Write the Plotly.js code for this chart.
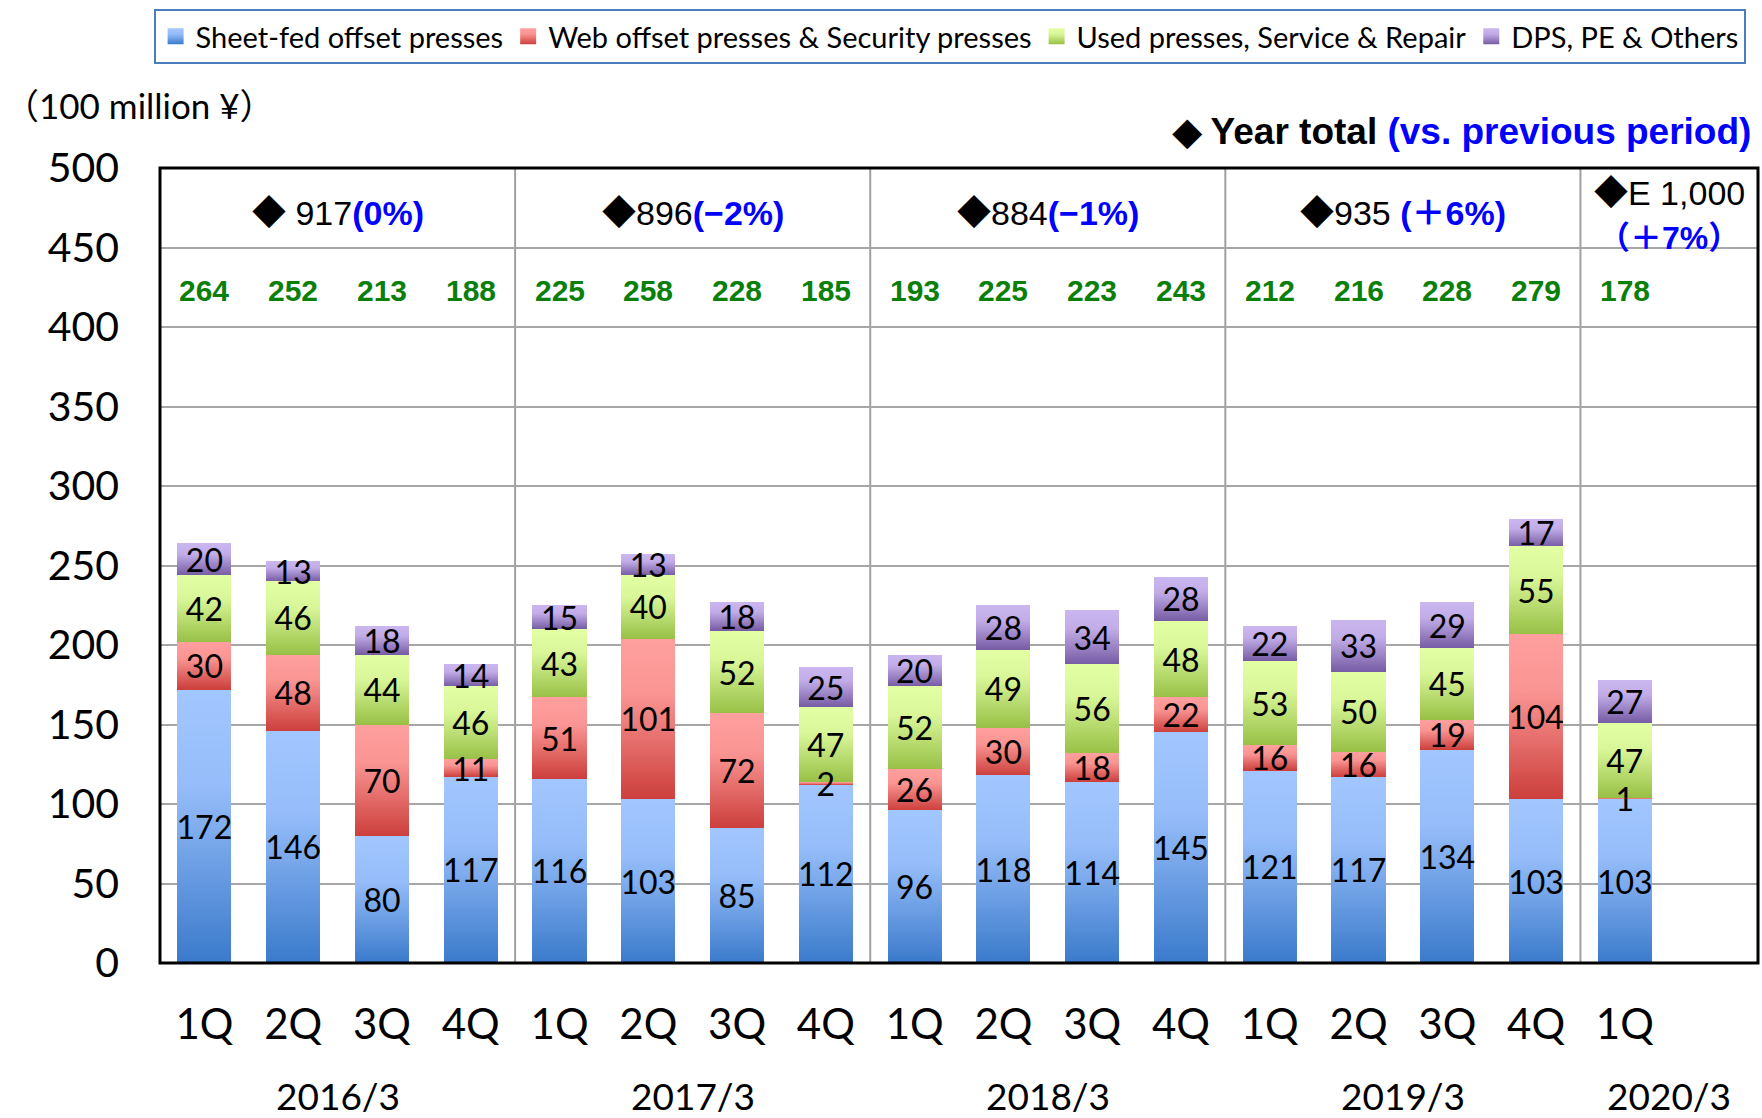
<!DOCTYPE html>
<html>
<head>
<meta charset="utf-8">
<script src="https://cdn.plot.ly/plotly-3.0.1.min.js"></script>
<style>
  html, body { margin: 0; padding: 0; background: #ffffff; }
  #chart { width: 1762px; height: 1118px; }
</style>
</head>
<body>
<div id="chart"></div>
<script>
// ---------- data ----------
const quarters = ["1Q","2Q","3Q","4Q","1Q","2Q","3Q","4Q","1Q","2Q","3Q","4Q","1Q","2Q","3Q","4Q","1Q"];
const fiscalYears = ["2016/3","2017/3","2018/3","2019/3","2020/3"];
const sheetFed    = [172,146,80,117,116,103,85,112,96,118,114,145,121,117,134,103,103];
const webOffset   = [30,48,70,11,51,101,72,2,26,30,18,22,16,16,19,104,1];
const usedPresses = [42,46,44,46,43,40,52,47,52,49,56,48,53,50,45,55,47];
const dpsOthers   = [20,13,18,14,15,13,18,25,20,28,34,28,22,33,29,17,27];
const quarterTotals = [264,252,213,188,225,258,228,185,193,225,223,243,212,216,228,279,178];
const yearTotals  = ["917","896","884","935","E 1,000"];
const yearChanges = ["(0%)","(−2%)","(−1%)","(＋6%)","（＋7%）"];
const seriesNames = ["Sheet-fed offset presses","Web offset presses & Security presses","Used presses, Service & Repair","DPS, PE & Others"];

// ---------- styling ----------
const baseFont = "Lato, 'Noto Sans', 'Noto Sans CJK JP', sans-serif";
const narrowFont = "'Liberation Sans Narrow', 'Arial Narrow', 'Liberation Sans', 'Noto Sans CJK JP', sans-serif";
const solidColors = ["#6f9fe4", "#e87070", "#c4e27e", "#a48fd0"];
const gradColors = [["#a2c6ff","#3a7acb"],["#ffa09e","#cc3f3c"],["#e2ffa4","#98c046"],["#cbb7f0","#765ca4"]];

const xIdx = quarters.map((q,i)=>i);
const seriesVals = [sheetFed, webOffset, usedPresses, dpsOthers];

const data = seriesVals.map((vals, k) => ({
  type: "bar",
  name: seriesNames[k],
  x: xIdx,
  y: vals,
  text: vals.map(String),
  textposition: "inside",
  insidetextanchor: "middle",
  constraintext: "none",
  textangle: 0,
  textfont: {family: baseFont, size: 32, color: "#000000"},
  marker: {color: solidColors[k], line: {width: 0}},
  width: 0.61,
  cliponaxis: false,
  hoverinfo: "skip"
}));

const groupCenters = [1.5, 5.5, 9.5, 13.5, 16.5];
const separators = [3.5, 7.5, 11.5, 15.5];

const annotations = [];
quarterTotals.forEach((t,i) => annotations.push({
  x: i, y: 423, xref: "x", yref: "y", text: String(t), showarrow: false,
  font: {family: narrowFont, size: 30, color: "#0a7f0a", weight: "bold"}
}));
for (let g = 0; g < 4; g++) {
  annotations.push({
    x: groupCenters[g], y: 472, xref: "x", yref: "y", showarrow: false,
    text: "◆" + (g === 0 ? " " : "") + yearTotals[g] + (g === 3 ? " " : "") +
          "<span style='color:#0000ff;font-weight:bold'>" + yearChanges[g] + "</span>",
    font: {family: narrowFont, size: 34, color: "#000000"}
  });
}
annotations.push({
  x: groupCenters[4], y: 484, xref: "x", yref: "y", showarrow: false,
  text: "◆" + yearTotals[4], font: {family: narrowFont, size: 34, color: "#000000"}
});
annotations.push({
  x: groupCenters[4], y: 456, xref: "x", yref: "y", showarrow: false,
  text: yearChanges[4], font: {family: narrowFont, size: 32, color: "#0000ff", weight: "bold"}
});
fiscalYears.forEach((fy, g) => annotations.push({
  x: groupCenters[g], y: -0.167, xref: "x", yref: "paper", yanchor: "middle", showarrow: false,
  text: fy, font: {family: baseFont, size: 37, color: "#000000"}
}));
annotations.push({
  x: -0.099, y: 1.079, xref: "paper", yref: "paper", xanchor: "left", yanchor: "middle", showarrow: false,
  text: "（100 million ¥）", font: {family: baseFont, size: 35, color: "#000000"}
});
annotations.push({
  x: 0.997, y: 1.0465, xref: "paper", yref: "paper", xanchor: "right", yanchor: "middle", showarrow: false,
  text: "◆ Year total <span style='color:#0000ff'>(vs. previous period)</span>",
  font: {family: "'Liberation Sans', Arial, sans-serif", size: 37, color: "#000000", weight: "bold"}
});

const shapes = separators.map(s => ({
  type: "line", xref: "x", yref: "y", x0: s, x1: s, y0: 0, y1: 500,
  line: {color: "#a0a0a0", width: 2}, layer: "below"
}));
shapes.push({
  type: "rect", xref: "paper", yref: "paper", x0: 0, x1: 1, y0: 0, y1: 1,
  line: {color: "#000000", width: 3}, fillcolor: "rgba(0,0,0,0)", layer: "above"
});

const layout = {
  width: 1762, height: 1118,
  margin: {l: 160, r: 4, t: 168, b: 155},
  paper_bgcolor: "#ffffff", plot_bgcolor: "#ffffff",
  barmode: "stack",
  font: {family: baseFont, color: "#000000"},
  showlegend: true,
  legend: {
    orientation: "h", x: -0.004, y: 1.2, xanchor: "left", yanchor: "top",
    traceorder: "normal",
    font: {family: baseFont, size: 29, color: "#000000"},
    bgcolor: "#ffffff", bordercolor: "#4a7ebb", borderwidth: 2,
    itemclick: false, itemdoubleclick: false
  },
  xaxis: {
    range: [-0.5, 17.5], tickmode: "array", tickvals: xIdx, ticktext: quarters,
    tickfont: {family: baseFont, size: 42, color: "#000000"},
    ticks: "", showgrid: false, zeroline: false, showline: false,
    ticklabelstandoff: 33, fixedrange: true
  },
  yaxis: {
    range: [0, 500], tick0: 0, dtick: 50,
    tickfont: {family: baseFont, size: 41, color: "#000000"},
    ticks: "", showgrid: true, gridcolor: "#a6a6a6", gridwidth: 2,
    zeroline: false, showline: false, ticklabelstandoff: 40, fixedrange: true
  },
  annotations: annotations,
  shapes: shapes
};

function mix(a, b, t) {
  const pa = [1,3,5].map(k => parseInt(a.substr(k,2),16));
  const pb = [1,3,5].map(k => parseInt(b.substr(k,2),16));
  return "rgb(" + pa.map((v,k)=>Math.round(v+(pb[k]-v)*t)).join(",") + ")";
}
function styleChart(gd) {
  const svgNS = "http://www.w3.org/2000/svg";
  const svg = gd.querySelector("svg.main-svg");
  let defs = svg.querySelector("defs");
  if (!defs) { defs = document.createElementNS(svgNS, "defs"); svg.insertBefore(defs, svg.firstChild); }
  if (!document.getElementById("barGrad0")) {
    gradColors.forEach((gc, i) => {
      const lg = document.createElementNS(svgNS, "linearGradient");
      lg.setAttribute("id", "barGrad" + i);
      lg.setAttribute("x1", "0"); lg.setAttribute("y1", "0");
      lg.setAttribute("x2", "0"); lg.setAttribute("y2", "1");
      [[0, gc[0]], [0.35, mix(gc[0], gc[1], 0.12)], [1, gc[1]]].forEach(([o, c]) => {
        const st = document.createElementNS(svgNS, "stop");
        st.setAttribute("offset", String(o));
        st.setAttribute("stop-color", c);
        lg.appendChild(st);
      });
      defs.appendChild(lg);
    });
  }
  gd.querySelectorAll(".barlayer .trace.bars").forEach((tr, i) => {
    let idx = i;
    try { idx = tr.__data__[0].trace.index; } catch (e) {}
    tr.querySelectorAll(".point path").forEach(p => { p.style.fill = "url(#barGrad" + idx + ")"; });
  });
  // keep every bar label above all bar segments
  const barlayer = gd.querySelector(".barlayer");
  if (barlayer) {
    let textGroup = barlayer.querySelector("g.bartext-top");
    if (!textGroup) {
      textGroup = document.createElementNS(svgNS, "g");
      textGroup.setAttribute("class", "bartext-top");
    }
    barlayer.querySelectorAll(".trace text.bartext").forEach(t => textGroup.appendChild(t));
    barlayer.appendChild(textGroup);
  }
  gd.querySelectorAll(".legend .traces").forEach((tr, i) => {
    let idx = i;
    try { idx = tr.__data__[0].trace.index; } catch (e) {}
    tr.querySelectorAll(".legendpoints path").forEach(p => {
      p.setAttribute("d", "M8,8H-8V-8H8Z");
      p.style.fill = "url(#barGrad" + idx + ")";
    });
  });
}

Plotly.newPlot("chart", data, layout, {staticPlot: true, displayModeBar: false}).then(gd => {
  styleChart(gd);
  requestAnimationFrame(() => styleChart(gd));
  setTimeout(() => styleChart(gd), 150);
});
</script>
</body>
</html>
